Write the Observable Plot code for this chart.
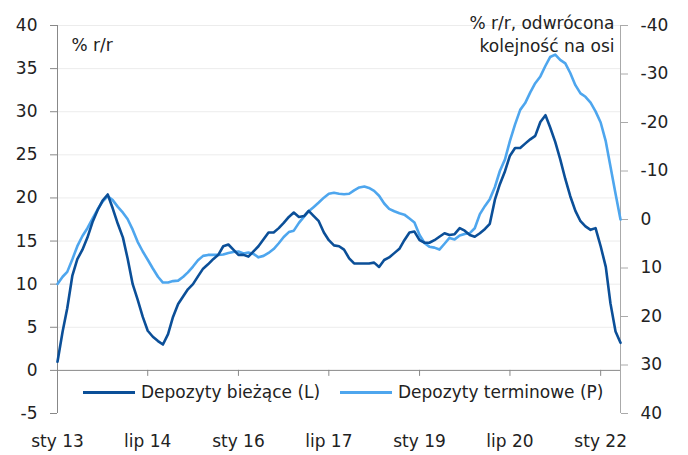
<!DOCTYPE html>
<html><head><meta charset="utf-8">
<script src="https://cdn.jsdelivr.net/npm/d3@7"></script>
<script src="https://cdn.jsdelivr.net/npm/@observablehq/plot@0.6"></script>
<style>
body{margin:0;background:#fff;font-family:"DejaVu Sans",sans-serif;}
#wrap{position:relative;width:688px;height:455px;}
.leg{position:absolute;top:381px;height:22px;display:flex;align-items:center;font-size:17px;color:#222;white-space:nowrap;background:#fff;}
.sw{display:inline-block;width:52px;height:3px;margin-right:6px;}
</style></head><body><div id="wrap"></div>
<script>
const startYear = 2013, startMonth = 0;
const biezace = [
  1.0, 4.5, 7.2, 11.0, 12.9, 14.0, 15.4, 17.2, 18.6, 19.7,
  20.4, 18.8, 17.0, 15.4, 13.0, 10.0, 8.2, 6.2, 4.6, 3.9,
  3.4, 3.0, 4.2, 6.2, 7.7, 8.6, 9.4, 10.0, 10.9, 11.8,
  12.3, 12.9, 13.4, 14.4, 14.6, 14.0, 13.4, 13.4, 13.2, 13.8,
  14.4, 15.2, 16.0, 16.0, 16.5, 17.1, 17.8, 18.3, 17.8, 17.9,
  18.5, 17.9, 17.3, 16.0, 15.1, 14.5, 14.4, 14.0, 13.0, 12.4,
  12.4, 12.4, 12.4, 12.5, 12.0, 12.8, 13.1, 13.6, 14.1, 15.1,
  16.0, 16.1, 15.1, 14.8, 14.8, 15.1, 15.5, 15.9, 15.7, 15.8,
  16.5, 16.2, 15.7, 15.5, 15.9, 16.4, 17.0, 19.8, 21.6, 23.1,
  24.9, 25.8, 25.8, 26.3, 26.8, 27.2, 28.8, 29.6, 28.2, 26.5,
  24.5, 22.2, 20.2, 18.5, 17.3, 16.7, 16.3, 16.5, 14.4, 12.0,
  7.8, 4.5, 3.2
];
const terminowe = [
  13.3, 11.8, 10.8, 8.2, 5.5, 3.4, 1.8, -0.2, -2.1, -3.7,
  -4.8, -4.0, -2.6, -1.4, -0.1, 2.1, 4.6, 6.6, 8.3, 10.1,
  11.8, 13.0, 13.0, 12.7, 12.6, 11.8, 10.9, 9.7, 8.4, 7.5,
  7.3, 7.3, 7.3, 7.2, 6.9, 6.7, 6.6, 7.0, 6.8, 7.1,
  7.8, 7.5, 6.9, 6.1, 4.9, 3.6, 2.6, 2.3, 0.7, -0.6,
  -1.7, -2.6, -3.5, -4.5, -5.3, -5.5, -5.3, -5.2, -5.3, -6.0,
  -6.6, -6.8, -6.5, -5.9, -4.9, -3.3, -2.2, -1.7, -1.3, -1.0,
  -0.2, 0.6, 3.2, 4.9, 5.6, 5.8, 6.2, 5.0, 3.8, 4.1,
  3.3, 3.0, 2.8, 1.8, -1.1, -2.8, -4.2, -6.7, -10.0, -12.4,
  -16.2, -19.6, -22.6, -24.0, -26.2, -28.1, -29.5, -31.7, -33.5, -34.0,
  -32.9, -32.2, -30.2, -27.7, -26.0, -25.3, -24.1, -22.3, -20.0, -16.1,
  -11.0, -5.3, 0.0
];
const xTickMonths = ["2013-01","2014-07","2016-01","2017-07","2019-01","2020-07","2022-01"];
const xTickLabels = ["sty 13","lip 14","sty 16","lip 17","sty 19","lip 20","sty 22"];
const leftTicks = [-5, 0, 5, 10, 15, 20, 25, 30, 35, 40];
const rightTicks = [-40, -30, -20, -10, 0, 10, 20, 30, 40];
const leftDomain = [-5, 40];
const rightDomain = [40, -40]; // reversed: bottom 40, top -40
const seriesNames = ["Depozyty bieżące (L)", "Depozyty terminowe (P)"];
const colors = ["#0b4f98", "#4ea6ee"];
const labelLeft = "% r/r";
const labelRight = "% r/r, odwrócona\nkolejność na osi";

// map right-axis value onto left scale
const rToL = d3.scaleLinear().domain(rightDomain).range(leftDomain);

const t0 = new Date(Date.UTC(startYear, startMonth, 1));
const dates = biezace.map((_, i) => d3.utcMonth.offset(t0, i));
const rows = dates.map((d, i) => ({date: d, b: biezace[i], t: rToL(terminowe[i])}));
const tickDates = xTickMonths.map(s => new Date(s + "-01T00:00:00Z"));

const chart = Plot.plot({
  width: 688, height: 455,
  marginLeft: 57, marginRight: 68, marginTop: 25, marginBottom: 42,
  style: {fontFamily: "DejaVu Sans", fontSize: "17px", color: "#222", background: "#fff", overflow: "visible"},
  x: {type: "utc", domain: [dates[0], dates[dates.length - 1]]},
  y: {domain: leftDomain},
  marks: [
    Plot.gridY(leftTicks.filter(v => v > 0), {stroke: "#ececec", strokeOpacity: 1}),
    Plot.ruleY([0], {stroke: "#888"}),
    Plot.ruleX([dates[0]], {stroke: "#888"}),
    Plot.ruleX([dates[dates.length - 1]], {stroke: "#aaa"}),
    Plot.ruleX(tickDates, {x: d => d, y1: 0, y2: 0, insetBottom: -6, stroke: "#888"}),
    Plot.axisY(leftTicks, {anchor: "left", tickSize: 7, tickPadding: 13, stroke: "#888", fill: "#222", label: null, tickFormat: d => String(d)}),
    Plot.axisY(rightTicks.map(rToL), {anchor: "right", tickSize: 7, tickPadding: 13, stroke: "#aaa", fill: "#222", label: null,
      tickFormat: v => String(Math.round(rToL.invert(v)))}),
    Plot.axisX(tickDates, {anchor: "bottom", tickSize: 0, tickPadding: 21, fill: "#222", label: null,
      tickFormat: d => xTickLabels[tickDates.findIndex(t => +t === +d)]}),
    Plot.lineY(rows, {x: "date", y: "t", stroke: colors[1], strokeWidth: 2.6}),
    Plot.lineY(rows, {x: "date", y: "b", stroke: colors[0], strokeWidth: 2.6}),
    Plot.text([labelLeft], {text: d => d, frameAnchor: "top-left", dx: 14, dy: 20, textAnchor: "start", lineAnchor: "middle", fill: "#222"}),
    Plot.text([labelRight], {text: d => d, frameAnchor: "top-right", dx: -6, dy: 7.5, textAnchor: "end", lineAnchor: "middle", lineHeight: 23 / 17, fill: "#222"})
  ]
});

const wrap = document.getElementById("wrap");
wrap.appendChild(chart);
const legPos = [83, 340];
seriesNames.forEach((name, i) => {
  const el = document.createElement("div");
  el.className = "leg";
  el.style.left = legPos[i] + "px";
  const sw = document.createElement("span");
  sw.className = "sw";
  sw.style.background = colors[i];
  el.appendChild(sw);
  el.appendChild(document.createTextNode(name));
  wrap.appendChild(el);
});
</script>
</body></html>
